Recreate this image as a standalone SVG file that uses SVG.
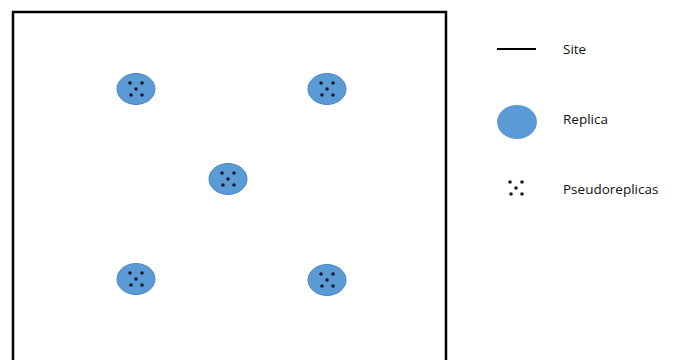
<svg xmlns="http://www.w3.org/2000/svg" width="677" height="360" viewBox="0 0 677 360">
<defs>
<style>
.rep{fill:#5b9bd5;stroke:#4a86bd;stroke-width:1}
.dot{fill:#1a1a2e}
.lbl{font-family:"Open Sans","Liberation Sans",sans-serif;font-size:13.5px;fill:#111}
</style>
<g id="pr">
<circle class="dot" cx="-6" cy="-6" r="1.8"/>
<circle class="dot" cx="6" cy="-6" r="1.8"/>
<circle class="dot" cx="0" cy="0" r="1.8"/>
<circle class="dot" cx="-5" cy="6" r="1.8"/>
<circle class="dot" cx="6" cy="6" r="1.8"/>
</g>
</defs>
<rect width="677" height="360" fill="#fff"/>
<g id="site"><rect x="13" y="12" width="433" height="360" fill="none" stroke="#000" stroke-width="2.5"/></g>
<g id="replica1"><ellipse class="rep" cx="136" cy="89" rx="19" ry="15.5"/><use href="#pr" x="136" y="89"/></g>
<g id="replica2"><ellipse class="rep" cx="327" cy="89" rx="19" ry="15.5"/><use href="#pr" x="327" y="89"/></g>
<g id="replica3"><ellipse class="rep" cx="228" cy="179" rx="19" ry="15.5"/><use href="#pr" x="228" y="179"/></g>
<g id="replica4"><ellipse class="rep" cx="136" cy="279" rx="19" ry="15.5"/><use href="#pr" x="136" y="279"/></g>
<g id="replica5"><ellipse class="rep" cx="327" cy="280" rx="19" ry="15.5"/><use href="#pr" x="327" y="280"/></g>
<g id="legend-site"><line x1="497" y1="49" x2="536" y2="49" stroke="#000" stroke-width="2"/><text class="lbl" x="563" y="54">Site</text></g>
<g id="legend-replica"><ellipse fill="#5b9bd5" cx="517" cy="122" rx="20" ry="17"/><text class="lbl" x="563" y="124">Replica</text></g>
<g id="legend-pseudo"><use href="#pr" x="516" y="188"/><text class="lbl" x="563" y="194">Pseudoreplicas</text></g>
</svg>
